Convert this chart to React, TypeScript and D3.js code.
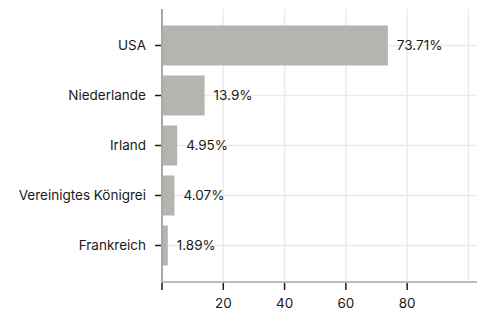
import React from "react";
import { scaleLinear, scaleBand } from "d3";

const countries = ["USA", "Niederlande", "Irland", "Vereinigtes Königrei", "Frankreich"];
const shares = [73.71, 13.9, 4.95, 4.07, 1.89];
const xTicks = [0, 20, 40, 60, 80];
const gridTicks = [0, 20, 40, 60, 80, 100];

export default function App() {
  const width = 477,
    height = 311,
    left = 162,
    top = 9,
    bottom = 282,
    right = 477,
    font = "Inter, 'Noto Sans', sans-serif",
    x = scaleLinear().domain([0, 102.8]).range([left, right]),
    y = scaleBand<string>()
      .domain(countries)
      .range([top, bottom])
      .paddingInner(0.2)
      .paddingOuter(0.33);

  return (
    <svg
      width={width}
      height={height}
      style={{ position: "absolute", left: 0, top: 0 }}
      fontFamily={font}
    >
      {gridTicks.map((t) => (
        <line
          key={"gx" + t}
          x1={x(t)}
          x2={x(t)}
          y1={top}
          y2={bottom}
          stroke="#ebebeb"
          strokeWidth={1.5}
        />
      ))}
      {countries.map((c) => (
        <line
          key={"gy" + c}
          x1={left}
          x2={right}
          y1={y(c)! + y.bandwidth() / 2}
          y2={y(c)! + y.bandwidth() / 2}
          stroke="#ebebeb"
          strokeWidth={1.5}
        />
      ))}
      {countries.map((c, i) => (
        <rect
          key={c}
          x={x(0)}
          y={y(c)}
          width={x(shares[i]) - x(0)}
          height={y.bandwidth()}
          fill="#b5b4b0"
        />
      ))}
      {countries.map((c, i) => (
        <text
          key={"v" + c}
          x={x(shares[i]) + 9}
          y={y(c)! + y.bandwidth() / 2}
          dy=".35em"
          fontSize={13.5}
          fill="#1a1a1a"
        >
          {shares[i] + "%"}
        </text>
      ))}
      <line x1={left} x2={left} y1={top} y2={bottom + 1} stroke="#a8a8a8" strokeWidth={2} />
      <line x1={left - 1} x2={right} y1={bottom} y2={bottom} stroke="#a8a8a8" strokeWidth={1.5} />
      {countries.map((c) => (
        <g key={"t" + c} transform={`translate(0,${y(c)! + y.bandwidth() / 2})`}>
          <line x1={left - 7} x2={left - 1} stroke="#1a1a1a" strokeWidth={1.5} />
          <text x={left - 16} dy=".35em" textAnchor="end" fontSize={13.5} fill="#1a1a1a">
            {c}
          </text>
        </g>
      ))}
      {xTicks.map((t) => (
        <g key={"xt" + t} transform={`translate(${x(t)},${bottom})`}>
          <line y1={1} y2={8} stroke="#1a1a1a" strokeWidth={1.5} />
          {t !== 0 && (
            <text y={21} dy=".35em" textAnchor="middle" fontSize={13.5} fill="#1a1a1a">
              {t}
            </text>
          )}
        </g>
      ))}
    </svg>
  );
}
